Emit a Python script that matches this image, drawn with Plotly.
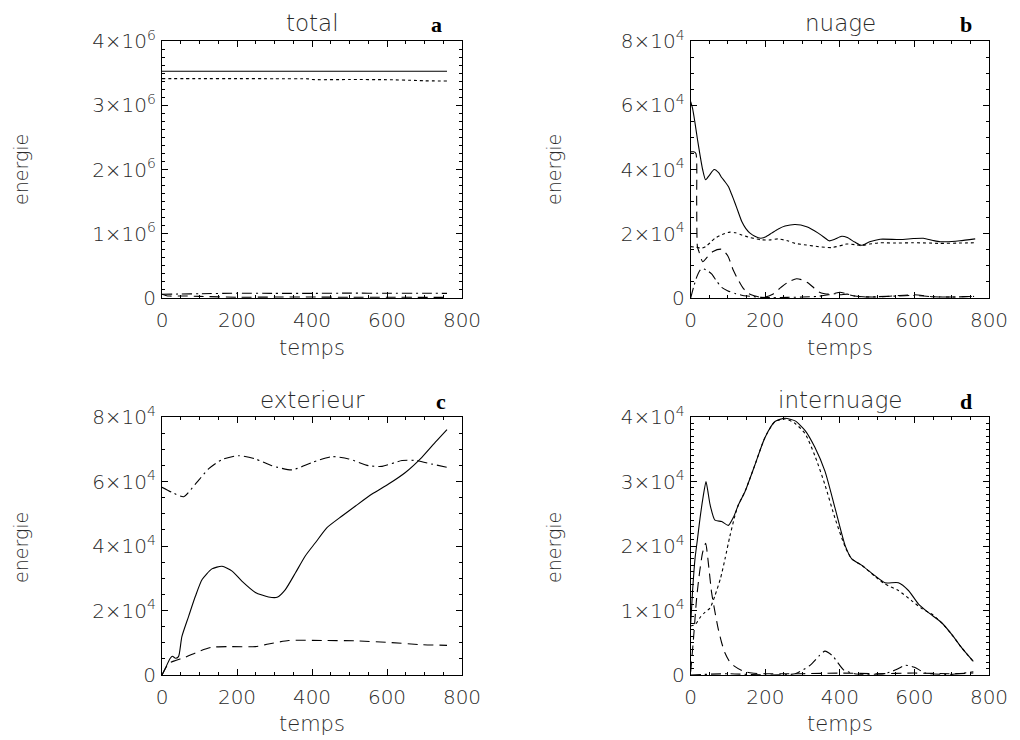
import plotly.graph_objects as go

# ---------------- data ----------------
# panel a : total (values in units of 1e6)
t_a_solid = [0, 200, 400, 600, 760]
e_a_solid = [3.53, 3.53, 3.53, 3.53, 3.53]
t_a_dot = [0, 100, 200, 300, 390, 400, 500, 600, 680, 700, 760]
e_a_dot = [3.415, 3.415, 3.415, 3.413, 3.41, 3.40, 3.40, 3.398, 3.385, 3.38, 3.378]
t_a_dash = [0, 10, 20, 60, 100, 200, 300, 400, 500, 600, 700, 760]
e_a_dash = [0.06, 0.04, 0.03, 0.032, 0.025, 0.012, 0.015, 0.015, 0.012, 0.012, 0.01, 0.01]
t_a_dashdot = [0, 50, 100, 200, 300, 400, 500, 600, 700, 760]
e_a_dashdot = [0.058, 0.062, 0.066, 0.075, 0.072, 0.072, 0.076, 0.073, 0.074, 0.072]

# panel b : nuage (units of 1e4)
t_b_solid = [0, 5, 11, 18, 25, 32, 40, 50, 63, 75, 83, 92, 101, 110, 119, 128, 137, 148, 159,
             172, 188, 200, 217, 235, 253, 280, 311, 342, 360, 371, 385, 405, 420, 440, 458,
             480, 508, 561, 597, 624, 650, 669, 700, 722, 763]
e_b_solid = [6.11, 5.9, 5.49, 4.95, 4.45, 4.0, 3.68, 3.82, 4.0, 3.9, 3.75, 3.62, 3.47, 3.22,
             2.95, 2.66, 2.38, 2.16, 2.02, 1.92, 1.86, 1.9, 2.02, 2.15, 2.24, 2.29, 2.22, 2.02,
             1.87, 1.78, 1.82, 1.92, 1.88, 1.74, 1.64, 1.75, 1.83, 1.82, 1.85, 1.86, 1.79,
             1.75, 1.76, 1.78, 1.84]
t_b_dot = [0, 15, 30, 40, 52, 65, 85, 105, 120, 137, 160, 190, 215, 234, 260, 280, 310, 342,
           378, 409, 418, 440, 458, 480, 508, 550, 597, 640, 669, 720, 763]
e_b_dot = [1.6, 1.58, 1.55, 1.6, 1.72, 1.86, 1.98, 2.05, 2.03, 1.96, 1.88, 1.81, 1.81, 1.84,
           1.78, 1.70, 1.65, 1.6, 1.57, 1.65, 1.68, 1.66, 1.63, 1.68, 1.72, 1.71, 1.72, 1.71,
           1.70, 1.71, 1.72]
t_b_dash = [0, 8, 14, 16, 18, 22, 32, 45, 60, 83, 100, 114, 128, 141, 155, 170, 185, 200, 220,
            242, 262, 284, 300, 316, 330, 342, 356, 370, 385, 400, 420, 440, 460, 500, 550,
            600, 650, 700, 760]
e_b_dash = [4.55, 4.55, 4.5, 3.0, 1.6, 1.45, 1.13, 1.28, 1.45, 1.52, 1.3, 0.87, 0.55, 0.3,
            0.14, 0.07, 0.03, 0.03, 0.12, 0.33, 0.5, 0.6, 0.56, 0.46, 0.32, 0.2, 0.14, 0.12,
            0.14, 0.18, 0.12, 0.06, 0.04, 0.03, 0.07, 0.1, 0.04, 0.03, 0.05]
t_b_dashdot = [0, 8, 16, 24, 30, 36, 45, 56, 70, 83, 100, 119, 140, 163, 190, 220, 260, 300,
               340, 370, 385, 400, 420, 440, 470, 500, 550, 600, 650, 700, 760]
e_b_dashdot = [0, 0.35, 0.65, 0.85, 0.92, 0.9, 0.85, 0.75, 0.52, 0.33, 0.22, 0.14, 0.08, 0.05,
               0.02, 0.01, 0.02, 0.03, 0.05, 0.1, 0.13, 0.1, 0.12, 0.06, 0.03, 0.04, 0.06,
               0.08, 0.04, 0.03, 0.05]

# panel c : exterieur (units of 1e4)
t_c_solid = [0, 9, 22, 28, 36, 44, 53, 71, 89, 107, 133, 160, 187, 213, 249, 284, 307, 329,
             356, 382, 409, 440, 480, 516, 560, 604, 649, 693, 729, 760]
e_c_solid = [0, 0.21, 0.52, 0.58, 0.52, 0.57, 1.19, 1.82, 2.44, 2.96, 3.29, 3.37, 3.22, 2.91,
             2.56, 2.42, 2.41, 2.65, 3.17, 3.69, 4.10, 4.57, 4.93, 5.24, 5.61, 5.92, 6.28,
             6.75, 7.22, 7.61]
t_c_dashdot = [0, 27, 58, 89, 124, 160, 204, 249, 293, 347, 400, 453, 498, 551, 587, 640, 676,
               720, 760]
e_c_dashdot = [5.82, 5.66, 5.53, 5.92, 6.39, 6.68, 6.80, 6.70, 6.49, 6.36, 6.59, 6.77, 6.70,
               6.49, 6.47, 6.65, 6.65, 6.54, 6.44]
t_c_dash = [0, 18, 36, 62, 98, 133, 178, 249, 284, 338, 427, 516, 604, 693, 760]
e_c_dash = [0, 0.36, 0.45, 0.55, 0.73, 0.86, 0.88, 0.88, 0.96, 1.07, 1.07, 1.06, 1.01, 0.94,
            0.92]

# panel d : internuage (units of 1e4)
t_d_solid = [0, 5, 11.5, 18, 25, 33, 41, 46, 52, 65, 83, 101, 115, 128, 146, 173, 199, 226,
             253, 280, 307, 333, 360, 387, 414, 432, 459, 494, 521, 557, 584, 611, 637, 673,
             700, 727, 758]
e_d_solid = [0.8, 1.3, 1.8, 2.1, 2.43, 2.75, 3.0, 2.85, 2.64, 2.40, 2.38, 2.32, 2.45, 2.64,
             2.85, 3.27, 3.68, 3.93, 3.98, 3.94, 3.79, 3.53, 3.16, 2.59, 2.01, 1.80, 1.70,
             1.54, 1.43, 1.43, 1.31, 1.10, 0.97, 0.81, 0.63, 0.42, 0.21]
t_d_dot = [0, 12, 25, 38, 52, 65, 80, 92, 105, 119, 128, 146, 173, 199, 226, 253, 280, 307,
           333, 360, 387, 414, 432, 459, 494, 521, 557, 593, 620, 650, 673, 700, 727, 758]
e_d_dot = [0.76, 0.78, 0.89, 0.97, 1.04, 1.23, 1.5, 1.80, 2.15, 2.48, 2.64, 2.85, 3.27, 3.68,
           3.93, 3.97, 3.90, 3.74, 3.40, 2.95, 2.43, 1.99, 1.80, 1.70, 1.53, 1.41, 1.31, 1.15,
           1.03, 0.93, 0.81, 0.63, 0.42, 0.21]
t_d_dash = [0, 8, 16, 24, 32, 40, 48, 56, 65, 74, 83, 92, 105, 119, 140, 164, 200, 250, 300,
            400, 500, 600, 700, 758]
e_d_dash = [0.05, 0.6, 1.2, 1.6, 1.9, 2.04, 1.7, 1.28, 0.98, 0.71, 0.5, 0.34, 0.2, 0.13,
            0.06, 0.03, 0.02, 0.02, 0.02, 0.03, 0.02, 0.03, 0.02, 0.03]
t_d_dashdot = [0, 100, 200, 280, 320, 345, 360, 380, 410, 440, 520, 550, 575, 600, 630, 700,
               745, 758]
e_d_dashdot = [0.0, 0.02, 0.0, 0.02, 0.15, 0.3, 0.37, 0.3, 0.08, 0.02, 0.02, 0.08, 0.15,
               0.12, 0.03, 0.01, 0.04, 0.05]

# tick labels
x_ticks = [0, 200, 400, 600, 800]
x_ticktext = ["0", "200", "400", "600", "800"]
y_ticks_a = [0, 1e6, 2e6, 3e6, 4e6]
y_ticktext_a = ["0", "1×10<sup>6</sup>", "2×10<sup>6</sup>", "3×10<sup>6</sup>", "4×10<sup>6</sup>"]
y_ticks_bc = [0, 2e4, 4e4, 6e4, 8e4]
y_ticktext_bc = ["0", "2×10<sup>4</sup>", "4×10<sup>4</sup>", "6×10<sup>4</sup>", "8×10<sup>4</sup>"]
y_ticks_d = [0, 1e4, 2e4, 3e4, 4e4]
y_ticktext_d = ["0", "1×10<sup>4</sup>", "2×10<sup>4</sup>", "3×10<sup>4</sup>", "4×10<sup>4</sup>"]

titles = ["total", "nuage", "exterieur", "internuage"]
letters = ["a", "b", "c", "d"]

# ---------------- figure ----------------
W, H = 1020, 740
OFF = 8  # default page margin of the html body
FONT = "DejaVu Sans"
TXT = "#2a2a2a"

DASH = {"solid": "solid", "dot": "3px,3px", "dash": "10px,6px", "dashdot": "10px,4px,2px,4px"}


def fx(px):
    return (px - OFF) / W


def fy(py):
    return 1 - (py - OFF) / H


fig = go.Figure()


def add(t, e, scale, style, ax):
    fig.add_trace(go.Scatter(
        x=t, y=[v * scale for v in e], mode="lines",
        line=dict(color="black", width=1.1, dash=DASH[style], shape="spline", smoothing=0.6),
        xaxis="x" + ax, yaxis="y" + ax, showlegend=False, hoverinfo="skip"))


add(t_a_solid, e_a_solid, 1e6, "solid", "")
add(t_a_dot, e_a_dot, 1e6, "dot", "")
add(t_a_dash, e_a_dash, 1e6, "dash", "")
add(t_a_dashdot, e_a_dashdot, 1e6, "dashdot", "")

add(t_b_solid, e_b_solid, 1e4, "solid", "2")
add(t_b_dot, e_b_dot, 1e4, "dot", "2")
add(t_b_dash, e_b_dash, 1e4, "dash", "2")
add(t_b_dashdot, e_b_dashdot, 1e4, "dashdot", "2")

add(t_c_solid, e_c_solid, 1e4, "solid", "3")
add(t_c_dash, e_c_dash, 1e4, "dash", "3")
add(t_c_dashdot, e_c_dashdot, 1e4, "dashdot", "3")

add(t_d_solid, e_d_solid, 1e4, "solid", "4")
add(t_d_dot, e_d_dot, 1e4, "dot", "4")
add(t_d_dash, e_d_dash, 1e4, "dash", "4")
add(t_d_dashdot, e_d_dashdot, 1e4, "dashdot", "4")

xl = [fx(162), fx(462)]
xr = [fx(690.7), fx(989)]
yt = [fy(298), fy(41)]
yb = [fy(675), fy(417)]

tickfont = dict(family=FONT, size=20, color=TXT, weight=200)


def xaxis(domain, anchor):
    return dict(domain=domain, anchor=anchor, range=[0, 800], tickvals=x_ticks,
                ticktext=x_ticktext, ticks="inside", ticklen=6, tickwidth=1,
                tickcolor="black", showline=True, linecolor="black", linewidth=1,
                mirror="allticks", showgrid=False, zeroline=False, tickfont=tickfont,
                ticklabelstandoff=4, automargin=False,
                minor=dict(dtick=50, ticks="inside", ticklen=3, tickcolor="black",
                           tickwidth=1, showgrid=False))


def yaxis(domain, anchor, rng, tv, tt, mdt):
    return dict(domain=domain, anchor=anchor, range=rng, tickvals=tv, ticktext=tt,
                ticks="inside", ticklen=6, tickwidth=1, tickcolor="black", showline=True,
                linecolor="black", linewidth=1, mirror="allticks", showgrid=False,
                zeroline=False, tickfont=tickfont, ticklabelstandoff=1, automargin=False,
                minor=dict(dtick=mdt, ticks="inside", ticklen=3, tickcolor="black",
                           tickwidth=1, showgrid=False))


fig.update_layout(
    width=W, height=H, margin=dict(l=0, r=0, t=0, b=0, pad=0, autoexpand=False),
    paper_bgcolor="white", plot_bgcolor="white",
    xaxis=xaxis(xl, "y"), yaxis=yaxis(yt, "x", [0, 4e6], y_ticks_a, y_ticktext_a, 125000),
    xaxis2=xaxis(xr, "y2"), yaxis2=yaxis(yt, "x2", [0, 8e4], y_ticks_bc, y_ticktext_bc, 5000),
    xaxis3=xaxis(xl, "y3"), yaxis3=yaxis(yb, "x3", [0, 8e4], y_ticks_bc, y_ticktext_bc, 5000),
    xaxis4=xaxis(xr, "y4"), yaxis4=yaxis(yb, "x4", [0, 4e4], y_ticks_d, y_ticktext_d, 1000),
)


def ann(text, px, py, size=23, angle=0, family=FONT, bold=False, color=TXT, weight=200):
    fig.add_annotation(text=text, x=fx(px), y=fy(py), xref="paper", yref="paper",
                       showarrow=False, textangle=angle, xanchor="center", yanchor="middle",
                       font=dict(family=family, size=size, color=color,
                                 weight=("bold" if bold else weight)))


title_pos = [(312, 23), (840, 23), (312, 400), (840, 400)]
letter_pos = [(436, 24), (966, 24), (441, 401), (966, 401)]
ylab_pos = [(21, 170), (554, 170), (21, 548), (554, 548)]
xlab_pos = [(312, 348), (840, 348), (312, 724), (840, 724)]

for i in range(4):
    ann(titles[i], *title_pos[i])
    ann(letters[i], *letter_pos[i], size=22, family="Liberation Serif", bold=True, color="black")
    ann("energie", *ylab_pos[i], size=19, angle=-90)
    ann("temps", *xlab_pos[i], size=21)

fig.write_html("out.html")
